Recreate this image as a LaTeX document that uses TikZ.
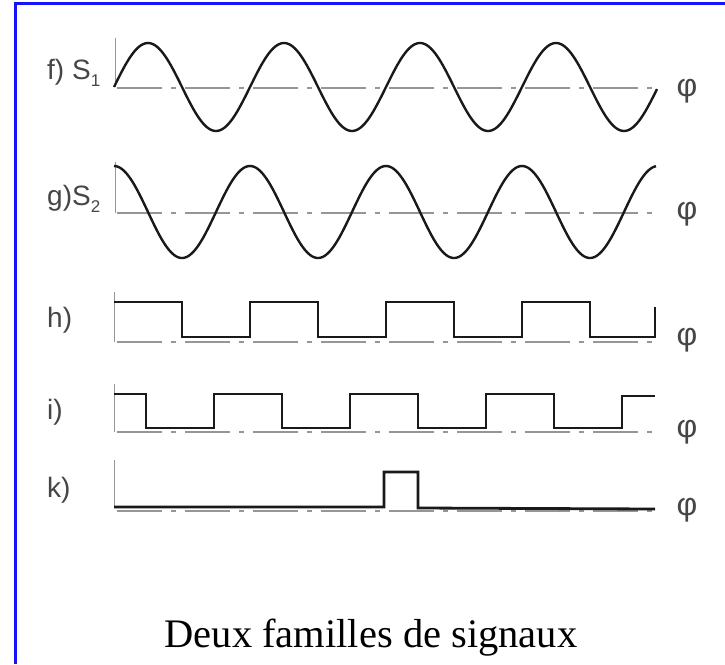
\documentclass[tikz,border=0pt]{standalone}
\usepackage{fontspec}
\setmainfont{Liberation Serif}
\newfontfamily\labfont{Liberation Sans}
\definecolor{frameblue}{RGB}{20,20,250}
\definecolor{axisgray}{RGB}{150,150,150}
\definecolor{labgray}{RGB}{70,70,70}
\definecolor{sigblack}{RGB}{25,25,25}
\begin{document}
\begin{tikzpicture}[x=1pt,y=-1pt,
  sine/.style={draw=sigblack,line width=2.4pt,line join=round},
  square/.style={draw=sigblack,line width=2.8pt,line join=miter},
  axisline/.style={draw=axisgray,line width=1.8pt,dash pattern=on 45pt off 9pt on 5pt off 9pt},
  tickline/.style={draw=axisgray,line width=1pt},
  lab/.style={font=\labfont\fontsize{28}{32}\selectfont,text=labgray,inner sep=0pt,anchor=base west},
  phi/.style={font=\labfont\fontsize{32}{36}\selectfont,text=labgray,inner sep=0pt},
  title/.style={font=\fontsize{40.5}{46}\selectfont,inner sep=0pt,anchor=base}]
\useasboundingbox (0,0) rectangle (725,664);
\fill[white] (0,0) rectangle (725,664);
% frame
\draw[frameblue,line width=3pt] (15,664) -- (15,3) -- (725,3);
% f) S1
\draw[tickline] (115,38) -- (115,87);
\draw[axisline] (117,88) -- (652,88);
\draw[sine] plot[domain=0:543,samples=300] ({114+\x},{87-44*sin(\x/136*360)});
\node[lab] (lf) at (47,79) {f) S\raisebox{-0.28em}{\fontsize{17}{20}\selectfont 1}};
\node[phi] (pf) at (687,91) {φ};
% g) S2
\draw[tickline] (115,162) -- (115,213);
\draw[axisline] (117,213) -- (652,213);
\draw[sine] plot[domain=0:542,samples=300] ({114+\x},{212-46*cos(\x/136*360)});
\node[lab] (lg) at (47,205) {g)S\raisebox{-0.28em}{\fontsize{17}{20}\selectfont 2}};
\node[phi] (pg) at (687,214) {φ};
% h)
\draw[tickline] (114,292) -- (114,342);
\draw[axisline] (117,342) -- (655,342);
\draw[square] (114,302) -- (182,302) -- (182,337) -- (250,337) -- (250,302) -- (318,302) -- (318,337) -- (386,337) -- (386,302) -- (454,302) -- (454,337) -- (522,337) -- (522,302) -- (590,302) -- (590,337) -- (655,337) -- (655,307);
\node[lab] (lh) at (47,327) {h)};
\node[phi] (ph) at (687,340) {φ};
% i)
\draw[tickline] (114,384) -- (114,432);
\draw[axisline] (117,432) -- (655,432);
\draw[square] (114,394) -- (146,394) -- (146,428) -- (214,428) -- (214,394) -- (282,394) -- (282,428) -- (350,428) -- (350,394) -- (418,394) -- (418,428) -- (486,428) -- (486,394) -- (554,394) -- (554,428) -- (622,428) -- (622,396) -- (655,396);
\node[lab] (li) at (47,419) {i)};
\node[phi] (pi) at (687,432) {φ};
% k)
\draw[tickline] (114,460) -- (114,507);
\draw[axisline] (117,511) -- (655,511);
\draw[square] (114,507) -- (384,507) -- (384,472) -- (418,472) -- (418,508) -- (655,509);
\node[lab] (lk) at (47,497) {k)};
\node[phi] (pk) at (687,510) {φ};
% title
\node[title] (t) at (371,647) {Deux familles de signaux};
\end{tikzpicture}
\end{document}
